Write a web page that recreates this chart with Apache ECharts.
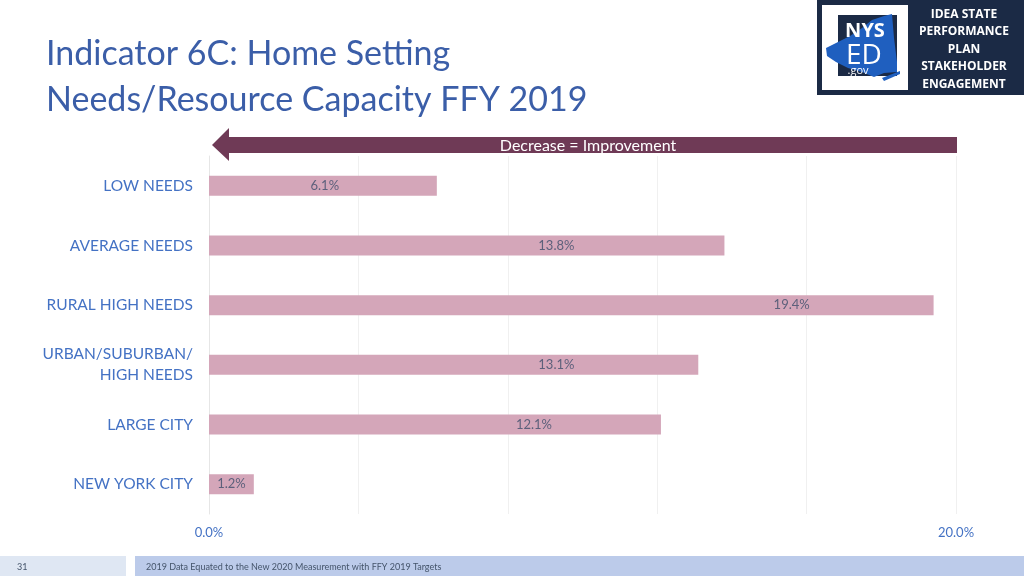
<!DOCTYPE html>
<html>
<head>
<meta charset="utf-8">
<script src="https://cdn.jsdelivr.net/npm/echarts@6/dist/echarts.min.js"></script>
<style>
  html, body { margin: 0; padding: 0; background: #fff; }
  #main { width: 1024px; height: 576px; }
</style>
</head>
<body>
<div id="main"></div>
<script>
// 数据
const categories = ['LOW NEEDS', 'AVERAGE NEEDS', 'RURAL HIGH NEEDS', 'URBAN/SUBURBAN/\nHIGH NEEDS', 'LARGE CITY', 'NEW YORK CITY']
const values = [6.1, 13.8, 19.4, 13.1, 12.1, 1.2]
// 数据标签在原图中的位置（按数值轴读出）
const labelAt = [3.1, 9.3, 15.6, 9.3, 8.7, 0.6]
const axisTicks = [0, 20]

const blue = '#4472c4'
const chart = echarts.init(document.getElementById('main'))

const options = {
  animation: false,
  textStyle: { fontFamily: 'Lato, "Open Sans", sans-serif' },
  grid: { left: 209, right: 68, top: 156, bottom: 62 },
  xAxis: {
    type: 'value',
    min: 0,
    max: 20,
    interval: 4,
    axisLine: { show: false },
    axisTick: { show: false },
    splitLine: { lineStyle: { color: '#f0f0f0' } },
    axisLabel: {
      color: blue,
      fontSize: 13,
      margin: 12,
      formatter: v => (axisTicks.includes(v) ? v.toFixed(1) + '%' : ''),
    },
  },
  yAxis: {
    type: 'category',
    inverse: true,
    data: categories,
    axisLine: { lineStyle: { color: '#e6e6e6' } },
    axisTick: { length: 4, lineStyle: { color: '#d9d9d9' } },
    axisLabel: { color: blue, fontSize: 15.5, margin: 16, lineHeight: 21 },
  },
  series: [
    {
      type: 'bar',
      data: values,
      barWidth: 20,
      itemStyle: { color: '#d4a6b9' },
    },
    {
      // 数据标签
      type: 'scatter',
      data: labelAt.map((x, i) => [x, i]),
      symbolSize: 0,
      silent: true,
      label: {
        show: true,
        position: 'inside',
        color: '#3e4f6c',
        fontSize: 13,
        formatter: p => values[p.dataIndex].toFixed(1) + '%',
      },
    },
  ],
  graphic: [
    // 标题
    {
      type: 'text', left: 46, top: 37,
      style: { text: 'Indicator 6C: Home Setting', fill: '#3b5ea8', fontSize: 34, fontFamily: 'Lato, sans-serif' },
    },
    {
      type: 'text', left: 46, top: 83,
      style: { text: 'Needs/Resource Capacity FFY 2019', fill: '#3b5ea8', fontSize: 34, fontFamily: 'Lato, sans-serif' },
    },
    // 箭头
    {
      type: 'polygon',
      shape: { points: [[212, 145], [229, 128], [229, 137], [957, 137], [957, 153], [229, 153], [229, 161]] },
      style: { fill: '#6f3a56' },
    },
    {
      type: 'text', x: 588, y: 146,
      style: { text: 'Decrease = Improvement', fill: '#fff', fontSize: 16, align: 'center', verticalAlign: 'middle', fontFamily: 'Lato, sans-serif' },
    },
    // logo
    { type: 'rect', shape: { x: 817, y: 0, width: 207, height: 95 }, style: { fill: '#1b2a45' } },
    { type: 'rect', shape: { x: 822, y: 5, width: 86, height: 85 }, style: { fill: '#fff' } },
    { type: 'rect', shape: { x: 838, y: 15, width: 59, height: 61 }, style: { fill: '#1b2a45' } },
    {
      type: 'polygon',
      shape: { points: [[826, 48], [838, 42], [850, 36], [862, 28], [872, 20], [884, 16], [892, 14], [894, 38], [897, 62], [897, 72], [884, 73], [874, 77], [862, 72], [848, 68], [836, 62], [827, 56]] },
      style: { fill: '#1f5fbf' },
    },
    {
      type: 'polygon',
      shape: { points: [[882, 78], [900, 71], [900, 74], [884, 81]] },
      style: { fill: '#1f5fbf' },
    },
    { type: 'text', x: 865, y: 31, style: { text: 'NYS', fill: '#fff', fontSize: 20, fontWeight: 'bold', align: 'center', verticalAlign: 'middle', fontFamily: '"Open Sans", sans-serif' } },
    { type: 'text', x: 864, y: 56, style: { text: 'ED', fill: '#fff', fontSize: 28, align: 'center', verticalAlign: 'middle', fontFamily: '"Open Sans", sans-serif' } },
    { type: 'text', x: 858, y: 71, style: { text: '.gov', fill: '#fff', fontSize: 11, align: 'center', verticalAlign: 'middle', fontFamily: '"Open Sans", sans-serif' } },
    {
      type: 'text', x: 964, y: 49.5,
      style: {
        text: 'IDEA STATE\nPERFORMANCE\nPLAN\nSTAKEHOLDER\nENGAGEMENT',
        fill: '#fff', fontSize: 12, fontWeight: 'bold', lineHeight: 17.5,
        align: 'center', verticalAlign: 'middle', fontFamily: '"Open Sans", sans-serif',
      },
    },
    // 页脚
    { type: 'rect', shape: { x: 0, y: 556, width: 126, height: 20 }, style: { fill: '#dfe7f3' } },
    { type: 'rect', shape: { x: 135, y: 556, width: 889, height: 20 }, style: { fill: '#bccbea' } },
    { type: 'text', x: 17, y: 567, style: { text: '31', fill: '#44546a', fontSize: 9, verticalAlign: 'middle', fontFamily: 'Lato, sans-serif' } },
    { type: 'text', x: 146, y: 567, style: { text: '2019 Data Equated to the New 2020 Measurement with FFY 2019 Targets', fill: '#44546a', fontSize: 9, verticalAlign: 'middle', fontFamily: 'Lato, sans-serif' } },
  ],
}

chart.setOption(options)
window.addEventListener('resize', () => chart.resize())
</script>
</body>
</html>
